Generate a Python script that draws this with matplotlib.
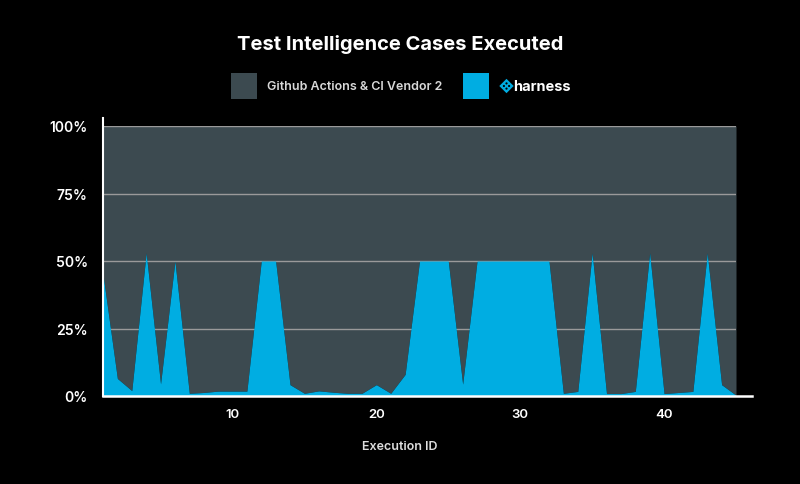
import matplotlib
matplotlib.use("Agg")
import matplotlib.pyplot as plt
from matplotlib.patches import Rectangle, RegularPolygon, Circle
import numpy as np

# data
execution_id = list(range(1, 46))
harness_pct = [45, 6.5, 2, 53, 4.5, 50, 1, 1.3, 1.8, 1.8,
               1.8, 50, 50, 4.2, 1, 1.9, 1.4, 1, 1, 4.2,
               1, 8, 50, 50, 50, 4.4, 50, 50, 50, 50,
               50, 50, 1, 1.7, 53, 0.9, 0.9, 1.7, 53, 0.9,
               1.3, 1.7, 53, 4.2, 0.3]
total_pct = [100] * len(execution_id)
y_ticks = [0, 25, 50, 75, 100]
x_ticks = [10, 20, 30, 40]

series_names = ["Github Actions & CI Vendor 2", "harness"]
gray = "#3c4a50"
cyan = "#00ade2"

plt.rcParams['font.family'] = ['Inter', 'DejaVu Sans']

fig = plt.figure(figsize=(8, 4.85), dpi=100)
fig.patch.set_facecolor("black")
ax = fig.add_axes([103/800, 1 - 397/485, 633/800, 270/485])
ax.set_facecolor("black")

x = np.array(execution_id)
y = np.array(harness_pct)
ax.fill_between(x, y, total_pct, color=gray, lw=0, zorder=1)
for t in y_ticks[1:]:
    ax.axhline(t, color="#9a9a9a", lw=1, zorder=1.5)
ax.fill_between(x, 0, y, color=cyan, lw=0, zorder=2)

ax.set_xlim(1, 45)
ax.set_ylim(0, 100)
for s in ax.spines.values():
    s.set_visible(False)
# axis lines
ax.plot([0, 0], [0, 1.03], transform=ax.transAxes, color="white", lw=1.5, clip_on=False, zorder=5)
ax.plot([0, 1.025], [0, 0], transform=ax.transAxes, color="white", lw=1.8, clip_on=False, zorder=5)

ax.set_yticks(y_ticks)
ax.set_yticklabels([f"{t}%" for t in y_ticks])
ax.set_xticks(x_ticks)
ax.tick_params(length=0, colors="white", labelsize=10)
ax.tick_params(axis="y", pad=11)
ax.tick_params(axis="x", pad=9, labelsize=9.5)
for lab in ax.get_xticklabels() + ax.get_yticklabels():
    lab.set_fontweight("semibold")

fig.text(0.5, 1 - 447/485, "Execution ID", color="#dddddd", fontsize=9,
         fontweight="semibold", ha="center", va="center")

fig.text(0.5, 1 - 44/485, "Test Intelligence Cases Executed", color="white",
         fontsize=14.5, fontweight="bold", ha="center", va="center")

# legend
ly = 1 - 87/485
fig.patches.append(Rectangle((231/800, 1 - 100/485), 26/800, 26/485, transform=fig.transFigure,
                             facecolor=gray, edgecolor="none"))
fig.text(267/800, ly, series_names[0], color="#d8d8d8", fontsize=9,
         fontweight="semibold", ha="left", va="center")
fig.patches.append(Rectangle((463/800, 1 - 100/485), 26/800, 26/485, transform=fig.transFigure,
                             facecolor=cyan, edgecolor="none"))
# harness logo mark
cx, cy = 5.065, (485 - 87) / 100
fig.patches.append(RegularPolygon((cx, cy), 4, radius=0.072, orientation=0,
                                  transform=fig.dpi_scale_trans, facecolor=cyan, edgecolor="none"))
for dx, dy in [(0.026, 0), (-0.026, 0), (0, 0.026), (0, -0.026)]:
    fig.patches.append(Circle((cx + dx, cy + dy), 0.011, transform=fig.dpi_scale_trans,
                              facecolor="black", edgecolor="none"))
fig.text(513/800, ly, series_names[1], color="white", fontsize=10.5,
         fontweight="bold", ha="left", va="center")

fig.savefig("out.png", dpi=100, facecolor="black")
